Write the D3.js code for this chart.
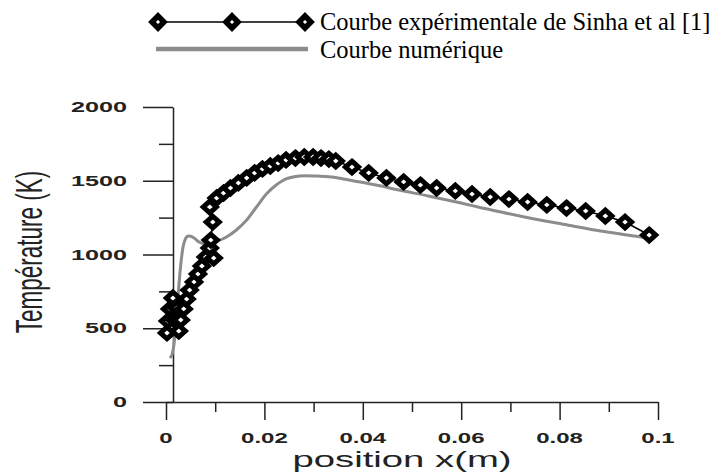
<!DOCTYPE html>
<html>
<head>
<meta charset="utf-8">
<script src="https://cdn.jsdelivr.net/npm/d3@7"></script>
<style>
  body { margin: 0; background: #fff; }
  svg { display: block; }
</style>
</head>
<body>
<svg id="chart" width="721" height="472"></svg>
<script>
// experimental points (Sinha et al), position in m / temperature in K
const expX = [0.0002, 0.0004, 0.0008, 0.0014, 0.0018, 0.0022, 0.0026, 0.0030, 0.0036, 0.0042,
  0.0048, 0.0057, 0.0065, 0.0073, 0.0081, 0.0089, 0.0097, 0.0091, 0.0095, 0.0089,
  0.0103, 0.0117, 0.0131, 0.0147, 0.0164, 0.0180, 0.0196, 0.0212, 0.0228, 0.0244,
  0.0263, 0.0281, 0.0299, 0.0315, 0.0331, 0.0345, 0.0378, 0.0412, 0.0448, 0.0483,
  0.0517, 0.0550, 0.0588, 0.0622, 0.0659, 0.0697, 0.0735, 0.0774, 0.0814, 0.0853,
  0.0893, 0.0933, 0.0982];
const expT = [468, 549, 631, 705, 556, 637, 481, 556, 631, 698,
  759, 814, 868, 922, 983, 1044, 976, 1098, 1220, 1322,
  1383, 1417, 1451, 1485, 1519, 1553, 1580, 1600, 1620, 1641,
  1654, 1661, 1661, 1654, 1647, 1634, 1593, 1553, 1519, 1492,
  1471, 1451, 1431, 1410, 1390, 1376, 1356, 1336, 1315, 1295,
  1261, 1220, 1132];

// numerical curve
const numX = [0.0008, 0.0012, 0.0016, 0.0020, 0.0024, 0.0028, 0.0032, 0.0036, 0.0042, 0.0048,
  0.0057, 0.0067, 0.0079, 0.0091, 0.0105, 0.0123, 0.0143, 0.0164, 0.0184, 0.0204,
  0.0224, 0.0244, 0.0271, 0.0305, 0.0337, 0.0372, 0.0406, 0.0438, 0.0473, 0.0533,
  0.0600, 0.0634, 0.0681, 0.0749, 0.0816, 0.0883, 0.0952, 0.0988];
const numT = [298, 319, 386, 522, 692, 861, 990, 1071, 1119, 1125,
  1112, 1085, 1071, 1078, 1092, 1119, 1166, 1234, 1322, 1410,
  1471, 1512, 1532, 1532, 1525, 1505, 1485, 1464, 1437, 1397,
  1349, 1322, 1288, 1241, 1200, 1159, 1125, 1105];

const xTicks = [0, 0.02, 0.04, 0.06, 0.08, 0.1];
const xTickLabels = ["0", "0.02", "0.04", "0.06", "0.08", "0.1"];
const xMinor = [0.01, 0.03, 0.05, 0.07, 0.09];
const yTicks = [0, 500, 1000, 1500, 2000];
const yMinor = [250, 750, 1250, 1750];
const legendLabels = ["Courbe expérimentale de Sinha et al [1]", "Courbe numérique"];

const svg = d3.select("#chart");
const axisColor = "#222";
const grey = "#8c8c8c";

const x = d3.scaleLinear().domain([0, 0.1]).range([166, 658]);
const y = d3.scaleLinear().domain([0, 2000]).range([402, 107]);
const yAxisX = 173;

// axes
function styleAxis(g) {
  g.selectAll("path, line").attr("stroke", axisColor).attr("stroke-width", 1.5);
  g.selectAll("text").remove();
}

svg.append("g")
  .attr("transform", `translate(${yAxisX},0)`)
  .call(d3.axisLeft(y).tickValues(yTicks).tickSize(30).tickSizeOuter(0))
  .call(styleAxis);
svg.append("g")
  .attr("transform", `translate(${yAxisX},0)`)
  .call(d3.axisLeft(y).tickValues(yMinor).tickSize(14))
  .call(g => g.select(".domain").remove())
  .call(styleAxis);

svg.append("g")
  .attr("transform", "translate(0,402)")
  .call(d3.axisBottom(x).tickValues(xTicks).tickSize(18).tickSizeOuter(0))
  .call(styleAxis);
svg.append("g")
  .attr("transform", "translate(0,402)")
  .call(d3.axisBottom(x).tickValues(xMinor).tickSize(10))
  .call(g => g.select(".domain").remove())
  .call(styleAxis);

// tick labels (the original figure is stretched horizontally)
svg.append("g").selectAll("text")
  .data(yTicks)
  .join("text")
  .attr("transform", d => `translate(127,${y(d) + 5}) scale(1.8,1)`)
  .attr("text-anchor", "end")
  .attr("font-family", "Liberation Sans, Arial, sans-serif")
  .attr("font-weight", "bold")
  .attr("font-size", 14)
  .attr("fill", "#222")
  .text(d => d);

svg.append("g").selectAll("text")
  .data(xTicks)
  .join("text")
  .attr("transform", d => `translate(${x(d)},443) scale(1.6,1)`)
  .attr("text-anchor", "middle")
  .attr("font-family", "Liberation Sans, Arial, sans-serif")
  .attr("font-weight", "bold")
  .attr("font-size", 15)
  .attr("fill", "#222")
  .text((d, i) => xTickLabels[i]);

// axis titles
svg.append("text")
  .attr("transform", "translate(402,467) scale(1.74,1)")
  .attr("text-anchor", "middle")
  .attr("font-family", "Liberation Sans, Arial, sans-serif")
  .attr("font-size", 22)
  .attr("fill", "#222")
  .text("position x(m)");

svg.append("text")
  .attr("transform", "translate(42,252) scale(1.65,1) rotate(-90)")
  .attr("text-anchor", "middle")
  .attr("font-family", "Liberation Sans, Arial, sans-serif")
  .attr("font-size", 22.5)
  .attr("fill", "#222")
  .text("Température (K)");

// numerical curve
const numData = numX.map((v, i) => [v, numT[i]]);
svg.append("path")
  .datum(numData)
  .attr("d", d3.line().x(d => x(d[0])).y(d => y(d[1])).curve(d3.curveCatmullRom))
  .attr("fill", "none")
  .attr("stroke", grey)
  .attr("stroke-width", 3);

// experimental curve
const expData = expX.map((v, i) => [v, expT[i]]);
svg.append("path")
  .datum(expData)
  .attr("d", d3.line().x(d => x(d[0])).y(d => y(d[1])))
  .attr("fill", "none")
  .attr("stroke", "#000")
  .attr("stroke-width", 1.5);

const diamond = "M0,-5.8L6.5,0L0,5.8L-6.5,0Z";
svg.append("g").selectAll("path")
  .data(expData)
  .join("path")
  .attr("transform", d => `translate(${x(d[0])},${y(d[1])})`)
  .attr("d", diamond)
  .attr("fill", "#fff")
  .attr("stroke", "#000")
  .attr("stroke-width", 5)
  .attr("stroke-linejoin", "miter");

// legend
const legend = svg.append("g");
legend.append("line")
  .attr("x1", 158).attr("x2", 305).attr("y1", 22).attr("y2", 22)
  .attr("stroke", "#000").attr("stroke-width", 1.5);
legend.selectAll("path.mk")
  .data([158, 232, 305])
  .join("path")
  .attr("class", "mk")
  .attr("transform", d => `translate(${d},22)`)
  .attr("d", "M0,-6L6,0L0,6L-6,0Z")
  .attr("fill", "#fff")
  .attr("stroke", "#000")
  .attr("stroke-width", 5.5);
legend.append("line")
  .attr("x1", 156).attr("x2", 308).attr("y1", 49).attr("y2", 49)
  .attr("stroke", grey).attr("stroke-width", 4.5);
legend.selectAll("text")
  .data(legendLabels)
  .join("text")
  .attr("x", 320)
  .attr("y", (d, i) => 30 + i * 28)
  .attr("font-family", "Liberation Serif, Times New Roman, serif")
  .attr("font-size", 24.5)
  .attr("fill", "#000")
  .text(d => d);
</script>
</body>
</html>
